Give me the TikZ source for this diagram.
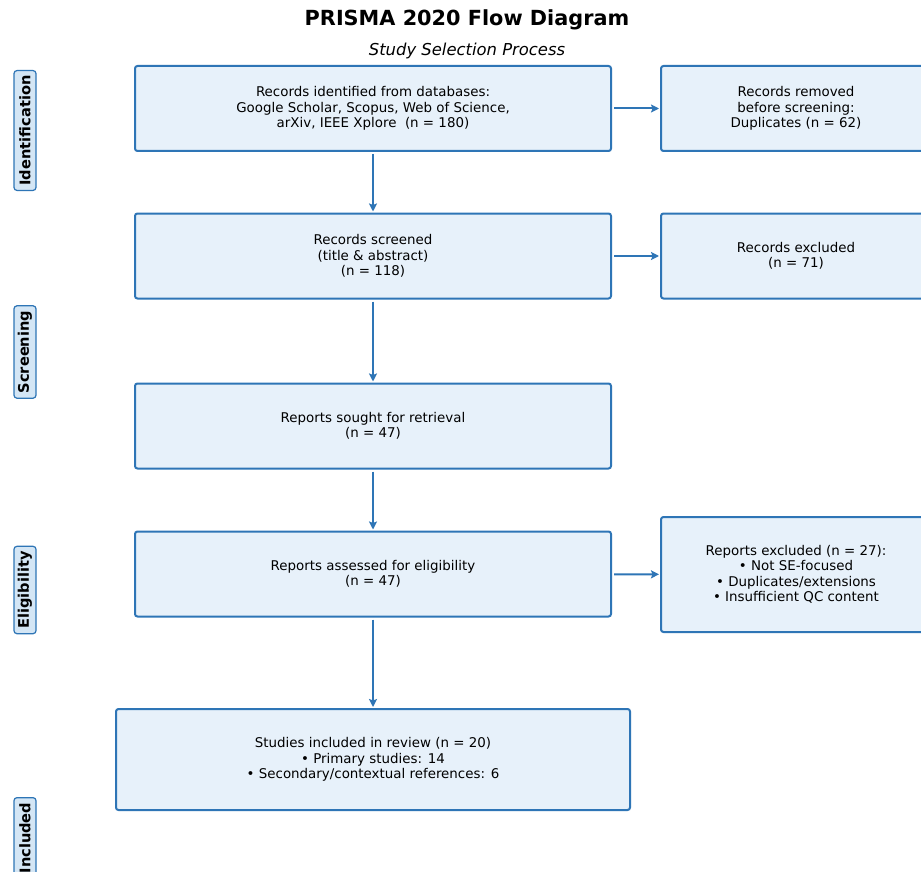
\documentclass[tikz,border=0pt]{standalone}
\usepackage{fontspec}
\setmainfont{DejaVu Sans}
\usetikzlibrary{arrows.meta,positioning}
\definecolor{boxedge}{RGB}{46,117,182}
\definecolor{boxfill}{RGB}{231,241,250}
\definecolor{tagfill}{RGB}{212,230,245}

\begin{document}
\begin{tikzpicture}[x=1pt,y=-1pt,align=center,font=\fontsize{13.4}{15.5}\selectfont]
\tikzstyle{stage}=[draw=boxedge,fill=boxfill,line width=2pt,rounded corners=2.5pt,minimum width=476pt,minimum height=85pt,inner sep=0pt]
\tikzstyle{side}=[stage,minimum width=270pt]
\tikzstyle{phase}=[draw=boxedge,fill=tagfill,line width=1.2pt,rounded corners=3pt,rotate=90,inner xsep=5pt,minimum height=22pt,font=\fontsize{14.6}{16}\selectfont\bfseries]
\tikzstyle{flow}=[-{Stealth[length=8pt,width=8pt,inset=1.5pt]},boxedge,line width=2pt,shorten >=1pt,shorten <=2pt]

\fill[white] (0,0) rectangle (921,872);
\useasboundingbox (0,0) rectangle (921,872);

% titles
\node (title) at (467,20) {\fontsize{20.8}{24}\selectfont\bfseries PRISMA 2020 Flow Diagram};
\node (subtitle) at (467,51) {\fontsize{16.4}{19}\selectfont\itshape Study Selection Process};

% main column
\node[stage] (ident) at (373,108.5) {Records identified from databases:\\Google Scholar, Scopus, Web of Science,\\arXiv, IEEE Xplore\ \ (n = 180)};
\node[stage] (screen) at (373,256) {Records screened\\(title \& abstract)\\(n = 118)};
\node[stage] (sought) at (373,426) {Reports sought for retrieval\\(n = 47)};
\node[stage] (assess) at (373,574) {Reports assessed for eligibility\\(n = 47)};
\node[stage,minimum width=514pt,minimum height=101pt] (incl) at (373,759.5) {Studies included in review (n = 20)\\\textbullet\ Primary studies: 14\\\textbullet\ Secondary/contextual references: 6};

% exclusions
\node[side] (removed) at (796,108.5) {Records removed\\before screening:\\Duplicates (n = 62)};
\node[side] (excl) at (796,256) {Records excluded\\(n = 71)};
\node[side,minimum height=115pt] (rexcl) at (796,574.5) {Reports excluded (n = 27):\\\textbullet\ Not SE-focused\\\textbullet\ Duplicates/extensions\\\textbullet\ Insufficient QC content};

% phase labels
\node[phase] (pid) at (25,130.5) {Identification};
\node[phase] (pscr) at (25,352) {Screening};
\node[phase] (pelig) at (25,590) {Eligibility};
\node[phase] (pincl) at (25,838) {Included};

\draw[flow] (ident) -- (screen);
\draw[flow] (screen) -- (sought);
\draw[flow] (sought) -- (assess);
\draw[flow] (assess) -- (incl);
\draw[flow] (ident) -- (removed);
\draw[flow] (screen) -- (excl);
\draw[flow] (assess) -- (rexcl);
\end{tikzpicture}
\end{document}
